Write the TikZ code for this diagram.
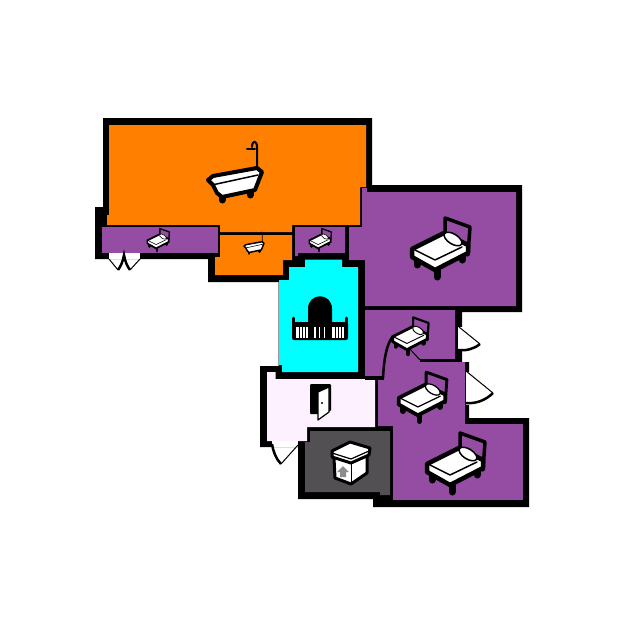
\documentclass[tikz,border=0pt]{standalone}
\definecolor{bathorange}{RGB}{255,127,0}
\definecolor{bedpurple}{RGB}{149,77,163}
\definecolor{halllilac}{RGB}{253,240,255}
\definecolor{storegrey}{RGB}{83,80,84}
\definecolor{balconycyan}{RGB}{0,255,255}
\tikzset{
	room/.style={fill=#1, draw=none},
	thinwall/.style={black, line width=2.5pt},
	doorleaf/.style={black, line width=1pt},
	doorarc/.style={black, line width=2.5pt},
	pics/bedicon/.style={code={
		\begin{scope}[scale=#1, line join=round, line cap=round]
			\draw [black, line width=#1*7pt] (-23,8) -- (-23,17) (-3,18) -- (-3,29) (22,4) -- (22,12);
			\draw [black, line width=#1*3.5pt] (5,-15) -- (5,-30) -- (30,-21) -- (28,7);
			\draw [black, fill=white, line width=#1*4.5pt] (-28,1) -- (4,-15) -- (28,-3) -- (28,5) -- (-5,22) -- (-28,9) -- cycle;
			\draw [black, fill=white, line width=#1*1.5pt, rotate around={-32:(13,-9)}] (13,-9) ellipse (10 and 5);
			\draw [black, line width=#1*1.5pt] (-25,2) -- (-5,12) -- (22,-1);
		\end{scope}
	}},
	pics/bathicon/.style={code={
		\begin{scope}[scale=#1, line join=round, line cap=round]
			\draw [black, line width=#1*7pt] (-13,8) -- (-13,15) (15,4) -- (15,10);
			\draw [black, line width=#1*2pt] (22,-15) -- (22,-38) .. controls (22,-45) and (17,-45) .. (17,-38);
			\draw [black, line width=#1*2pt] (12,-36) -- (20,-36);
			\draw [black, fill=white, line width=#1*4pt] (-27,-5) -- (-22,-9) -- (22,-17) -- (27,-13) -- (20,5) -- (-13,12) -- (-18,8) -- (-22,0) -- cycle;
			\draw [black, line width=#1*1.5pt] (-23,0) -- (23,-10);
		\end{scope}
	}},
	pics/balconyicon/.style={code={
		\fill [black] (-12,5) -- (-12,-11) .. controls (-12,-28) and (12,-28) .. (12,-11) -- (12,5) -- cycle;
		\fill [black, rounded corners=2pt] (-28,2) rectangle (28,20);
		\draw [black, line width=3pt, line cap=round] (-26.5,-2) -- (-26.5,5) (26.5,-2) -- (26.5,5);
		\foreach \panelx in {-24,12} {
			\fill [white] (\panelx,7) rectangle ++(12,11);
			\foreach \barx in {3,6.2,9.4} {
				\fill [black] (\panelx+\barx-0.5,7) rectangle ++(1,11);
			}
		}
		\foreach \barx in {-5.7,-1,4} {
			\fill [white] (\barx,7) rectangle ++(1.4,11);
		}
	}},
	pics/dooricon/.style={code={
		\fill [black, rounded corners=1pt] (-10,-18) -- (11,-18) -- (11,9) -- (-2,12) -- (-10,12) -- cycle;
		\draw [black, fill=white, line width=1.2pt, line join=round] (-2,-10) -- (9,-15) -- (9,10) -- (-2,18) -- cycle;
		\fill [black] (2,1) circle (1.1);
	}},
	pics/boxicon/.style={code={
		\begin{scope}[line join=round]
			\draw [black, fill=white, line width=3pt] (-16,-5) -- (-15,15) -- (1,21) -- (17,10) -- (17,-7) -- cycle;
			\draw [black, line width=0.8pt] (1,-1) -- (1,20);
			\fill [black!45] (-7,3) -- (-1,9) -- (-4,9) -- (-4,14) -- (-10,14) -- (-10,9) -- (-13,9) -- cycle;
			\draw [black, fill=white, line width=3pt] (-18,-12) -- (0,-21) -- (20,-15) -- (19,-8) -- (1,0) -- (-18,-6) -- cycle;
			\draw [black, line width=1.2pt] (-18,-10) -- (1,-4) -- (19,-12);
		\end{scope}
	}},
}
\begin{document}
\begin{tikzpicture}[x=1pt, y=-1pt]
	\useasboundingbox [fill=white] (0,0) rectangle (625,625);
	% outer wall
	\fill [black] (103,118) -- (372,118) -- (372,185) -- (522,185) -- (522,312) -- (462,312) -- (462,362) -- (469,362) -- (469,418) -- (529,418) -- (529,507) -- (373,507) -- (373,499) -- (298,499) -- (298,447) -- (260,447) -- (260,366) -- (279,366) -- (279,282) -- (208,282) -- (208,259) -- (95,259) -- (95,207) -- (103,207) -- cycle;
	\draw [black!40, line width=0.8pt] (278,282) -- (278,366);
	% rooms
	\fill [room=bathorange] (109,125) -- (366,125) -- (366,187) -- (360,187) -- (360,225) -- (292,225) -- (292,232) -- (220,232) -- (220,225) -- (107,225) -- (107,215) -- (109,215) -- cycle;
	\fill [room=bathorange] (220,235) -- (292,235) -- (292,260) -- (283,260) -- (283,275) -- (215,275) -- (215,257) -- (220,257) -- cycle;
	\fill [room=bedpurple] (102,227) rectangle (218,253);
	\fill [room=bedpurple] (295,227) -- (345,227) -- (345,253) -- (298,253) -- (298,256) -- (295,256) -- cycle;
	\fill [room=bedpurple] (362,188) -- (367,188) -- (367,192) -- (516,192) -- (516,306) -- (365,306) -- (365,260) -- (349,260) -- (349,227) -- (362,227) -- cycle;
	\fill [room=bedpurple] (365,310) -- (455,310) -- (455,362) -- (465,362) -- (465,426) -- (378,426) -- (378,380) -- (365,380) -- cycle;
	\fill [room=bedpurple] (393,424) rectangle (523,500);
	\fill [room=balconycyan] (279,280) -- (289,280) -- (289,267) -- (305,267) -- (305,259.5) -- (342,259.5) -- (342,267) -- (358,267) -- (358,372) -- (282,372) -- (282,365) -- (279,365) -- cycle;
	\fill [room=halllilac] (267,372) -- (275.5,372) -- (275.5,379) -- (375,379) -- (375,427) -- (307,427) -- (307,441) -- (267,441) -- cycle;
	\fill [room=storegrey] (310,431) -- (390,431) -- (390,495) -- (380,495) -- (380,492) -- (305,492) -- (305,442) -- (310,442) -- cycle;
	% inner walls
	\draw [thinwall] (420,360.5) -- (456,360.5);
	\draw [thinwall, line width=3.5pt] (365,378) -- (384,378);
	\draw [doorarc] (383,378) .. controls (384,360) and (386,345) .. (393,336);
	\draw [doorleaf] (409,348) -- (420,360);
	% door gaps
	\fill [white] (458,327) rectangle (463,350);
	\fill [white] (466,372) rectangle (470,405);
	\fill [white] (272,441) rectangle (298,447);
	\fill [white] (109,253) rectangle (140,259);
	% door swings
	\draw [doorleaf] (459,327) -- (480,344);
	\draw [doorarc] (480,344) .. controls (474,349) and (466,351) .. (458,350);
	\draw [doorleaf] (466,371) -- (493,393);
	\draw [doorarc] (493,393) .. controls (486,400) and (476,404) .. (466,403);
	\draw [doorleaf] (298,445) -- (281,464);
	\draw [doorarc] (281,464) .. controls (276,459) and (273,451) .. (272,444);
	\draw [doorleaf] (109,259) -- (118,270);
	\draw [doorleaf] (140,259) -- (130,270);
	\draw [doorarc] (118,270) .. controls (121,266) and (123,261) .. (124,255) .. controls (125,261) and (127,266) .. (130,270);
	% room icons
	\pic at (235,185) {bathicon=1};
	\pic at (254,248) {bathicon=0.37};
	\pic at (158,240) {bedicon=0.38};
	\pic at (320,240) {bedicon=0.38};
	\pic at (440,248) {bedicon=1};
	\pic at (410,336) {bedicon=0.62};
	\pic at (422,397) {bedicon=0.83};
	\pic at (455,463) {bedicon=1};
	\pic at (320,320) {balconyicon};
	\pic at (320,402) {dooricon};
	\pic at (350,463) {boxicon};
\end{tikzpicture}
\end{document}
